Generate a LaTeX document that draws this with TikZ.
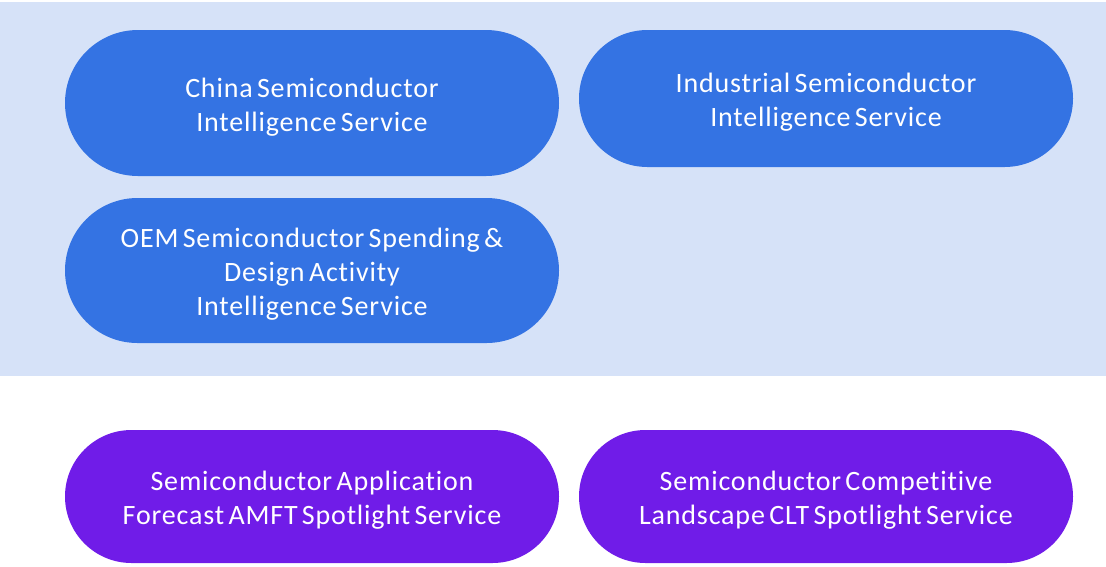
\documentclass[tikz,border=0pt]{standalone}
\usepackage{fontspec}
\setmainfont{Carlito}[LetterSpace=3,WordSpace=0.6,Ligatures=NoCommon]
\usepackage{tikz}

\definecolor{panelbg}{RGB}{214,226,248}
\definecolor{svcblue}{RGB}{52,115,227}
\definecolor{svcpurple}{RGB}{112,28,232}
\newcommand{\svcstrut}{\rule{0pt}{27pt}}

\tikzset{
  service/.style={draw=none, text=white, align=center, minimum width=494pt,
    inner sep=0pt, font=\fontsize{28}{34}\selectfont},
  bluepill/.style={service, fill=svcblue},
  purplepill/.style={service, fill=svcpurple}
}

\begin{document}
\begin{tikzpicture}[x=1pt,y=-1pt]
    \useasboundingbox (0,0) rectangle (1106,566);

    % Panel
    \fill[panelbg] (0,2) rectangle (1106,376);

    % Intelligence services
    \node[bluepill, minimum height=146pt, rounded corners=73pt] (china) at (312,103)
        {\svcstrut China Semiconductor\\Intelligence Service};
    \node[bluepill, minimum height=137pt, rounded corners=68.5pt] (industrial) at (826,98.5)
        {\svcstrut Industrial Semiconductor\\Intelligence Service};
    \node[bluepill, minimum height=145pt, rounded corners=72.5pt] (oem) at (312,270.5)
        {\svcstrut OEM Semiconductor Spending \&\\Design Activity\\Intelligence Service};

    % Spotlight services
    \node[purplepill, minimum height=133pt, rounded corners=66.5pt] (amft) at (312,496.5)
        {\svcstrut Semiconductor Application\\Forecast AMFT Spotlight Service};
    \node[purplepill, minimum height=133pt, rounded corners=66.5pt] (clt) at (826,496.5)
        {\svcstrut Semiconductor Competitive\\Landscape CLT Spotlight Service};
\end{tikzpicture}
\end{document}
